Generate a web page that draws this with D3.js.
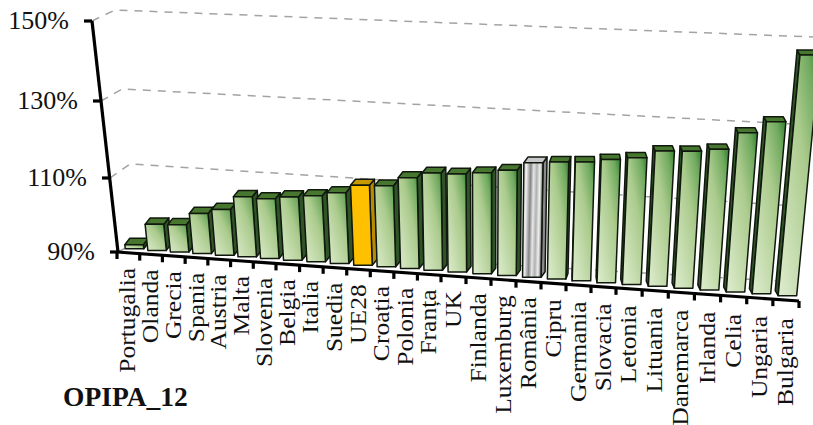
<!DOCTYPE html>
<html>
<head>
<meta charset="utf-8">
<script src="https://cdn.jsdelivr.net/npm/d3@7"></script>
<style>
body { margin: 0; background: #fff; }
text { font-family: "Liberation Serif", "Times New Roman", serif; fill: #111; }
</style>
</head>
<body>
<svg width="813" height="425"></svg>
<script>
var categories = ["Portugalia", "Olanda", "Grecia", "Spania", "Austria", "Malta", "Slovenia", "Belgia", "Italia", "Suedia", "UE28", "Croația", "Polonia", "Franța", "UK", "Finlanda", "Luxemburg", "România", "Cipru", "Germania", "Slovacia", "Letonia", "Lituania", "Danemarca", "Irlanda", "Celia", "Ungaria", "Bulgaria"];
var values = [91.1, 97, 97.3, 100.7, 102.2, 106, 105.8, 106.7, 107.4, 108.6, 110.9, 111.1, 113.5, 115, 115.1, 115.8, 116.8, 119, 119.5, 119.9, 120.8, 121.6, 123.6, 123.9, 124.7, 129, 131.9, 147.5];
var tickValues = [90, 110, 130, 150];
var tickLabels = ["90%", "110%", "130%", "150%"];
var chartTitle = "OPIPA_12";

var svg = d3.select("svg");
var vanish = [486, 3519];

// the chart is a tilted 3D one, so the scales are piecewise
var slotX = d3.scaleLinear().domain([0, 7, 14, 21, 28]).range([117, 276, 441, 616, 799]);
var floorY = d3.scaleLinear().domain([117, 799]).range([252, 301]);
var axisY = d3.scaleLinear().domain(tickValues).range([252, 178, 101, 21]);
var axisX = d3.scaleLinear().domain(tickValues).range([118, 110, 101, 92]);
var backLeftX = d3.scaleLinear().domain(tickValues).range([135, 130, 122, 115]);
var backLeftY = d3.scaleLinear().domain(tickValues).range([243, 164, 89, 10]);
var backRightY = d3.scaleLinear().domain(tickValues).range([283, 207, 125, 37]);
var heightAt = d3.scaleLinear().domain(tickValues).range([0, 74, 151, 231]);
var growth = d3.scaleLinear().domain([117, 799]).range([1, 1.09]);
var shiftX = d3.scaleLinear().domain([151, 358, 785]).range([6, 4.5, 1.5]);
var depthX = d3.scaleLinear().domain([117, 360, 540, 575, 640, 799]).range([5, 5, 4, 0, -2, -3]);
var depthY = d3.scaleLinear().domain([117, 799]).range([6.5, 5]);
var labelGap = d3.scaleLinear().domain([0, 14, 27]).range([15, 15, 18]);

function fan(x0, y0, y) {
    return vanish[0] + (x0 - vanish[0]) * (vanish[1] - y) / (vanish[1] - y0);
}

var defs = svg.append("defs");
function gradient(id, stops, x1, y1, x2, y2) {
    var g = defs.append("linearGradient").attr("id", id)
        .attr("x1", x1).attr("y1", y1).attr("x2", x2).attr("y2", y2);
    stops.forEach(function (s) {
        g.append("stop").attr("offset", s[0]).attr("stop-color", s[1]);
    });
}
gradient("green", [[0, "#dfedcf"], [0.6, "#abcb8d"], [0.86, "#6fa95e"], [1, "#2f8030"]], 0, 1, 1, 0);
gradient("grey", [[0, "#bdbdbd"], [0.2, "#eeeeee"], [0.4, "#858585"], [0.55, "#e6e6e6"], [0.7, "#b0b0b0"], [0.85, "#f0f0f0"], [1, "#707070"]], 0, 0, 1, 0.12);

var palette = {
    normal: { front: "url(#green)", side: "#2f5427", top: "#47772f" },
    UE28: { front: "#ffc000", side: "#b98c00", top: "#c89800" },
    "România": { front: "url(#grey)", side: "#8a8a8a", top: "#c8c8c8" }
};

// back wall grid lines, they stop at the slanted right edge of the wall
tickValues.forEach(function (v) {
    var lx = backLeftX(v), ly = backLeftY(v), ry = backRightY(v);
    var rx = Math.min(813, fan(792, 283, ry));
    var endY = ly + (ry - ly) * (rx - lx) / (813 - lx);
    svg.append("path")
        .attr("d", d3.line()([[axisX(v), axisY(v)], [lx, ly], [rx, endY]]))
        .attr("fill", "none")
        .attr("stroke", "#a3a3a3")
        .attr("stroke-width", 1.5)
        .attr("stroke-dasharray", "8 7");
});

var bars = categories.map(function (name, i) {
    var left = slotX(i), right = slotX(i + 1);
    var mid = (left + right) / 2;
    var cx = mid + shiftX(mid);
    var w = 18.5;
    return {
        name: name, i: i, value: values[i], mid: mid,
        x0: cx - w / 2, x1: cx + w / 2,
        base: floorY(cx) - 4.5,
        dx: depthX(cx),
        dy: depthY(cx),
        h: heightAt(values[i]) * growth(cx)
    };
});

// outer bars go first so side faces stay behind their neighbours
var order = bars.slice().sort(function (a, b) {
    return Math.abs(b.mid - 560) - Math.abs(a.mid - 560);
});

var barGroups = svg.append("g").selectAll("g").data(order).enter().append("g")
    .attr("stroke", "#10180e")
    .attr("stroke-width", 1.5)
    .attr("stroke-linejoin", "round");

function face(sel, fn, key) {
    sel.append("polygon")
        .attr("points", fn)
        .attr("fill", function (d) { return (palette[d.name] || palette.normal)[key]; });
}

face(barGroups, function (d) {
    var top = d.base - d.h;
    var edge = d.dx >= 0 ? d.x1 : d.x0;
    return [
        [fan(edge, d.base, d.base), d.base],
        [fan(edge, d.base, top), top],
        [fan(edge, d.base, top) + d.dx, top - d.dy],
        [fan(edge, d.base, d.base) + d.dx, d.base - d.dy]
    ].join(" ");
}, "side");

face(barGroups, function (d) {
    var top = d.base - d.h;
    return [
        [fan(d.x0, d.base, top), top],
        [fan(d.x1, d.base, top), top],
        [fan(d.x1, d.base, top) + d.dx, top - d.dy],
        [fan(d.x0, d.base, top) + d.dx, top - d.dy]
    ].join(" ");
}, "top");

face(barGroups, function (d) {
    var top = d.base - d.h;
    return [
        [d.x0, d.base],
        [d.x1, d.base],
        [fan(d.x1, d.base, top), top],
        [fan(d.x0, d.base, top), top]
    ].join(" ");
}, "front");

// value axis
svg.append("line")
    .attr("x1", axisX(150)).attr("y1", axisY(150))
    .attr("x2", axisX(90)).attr("y2", axisY(90))
    .attr("stroke", "#000").attr("stroke-width", 3.2);

tickValues.forEach(function (v, i) {
    svg.append("line")
        .attr("x1", axisX(v) - 8).attr("y1", axisY(v))
        .attr("x2", axisX(v)).attr("y2", axisY(v))
        .attr("stroke", "#000").attr("stroke-width", 3.2);
    svg.append("text")
        .attr("x", axisX(v) - 23)
        .attr("y", axisY(v) + 8)
        .attr("text-anchor", "end")
        .attr("font-size", 26)
        .text(tickLabels[i]);
});

// category axis
svg.append("line")
    .attr("x1", slotX(0)).attr("y1", floorY(slotX(0)))
    .attr("x2", slotX(28)).attr("y2", floorY(slotX(28)))
    .attr("stroke", "#000").attr("stroke-width", 3.2);

d3.range(29).forEach(function (i) {
    svg.append("line")
        .attr("x1", slotX(i)).attr("y1", floorY(slotX(i)))
        .attr("x2", slotX(i)).attr("y2", floorY(slotX(i)) + 7)
        .attr("stroke", "#000").attr("stroke-width", 3.2);
});

svg.append("g").selectAll("text").data(bars).enter().append("text")
    .attr("text-anchor", "end")
    .attr("font-size", 23)
    .attr("transform", function (d) {
        return "translate(" + (d.mid + 7) + "," + (floorY(d.mid) + labelGap(d.i)) + ") rotate(-90) scale(1.11,1)";
    })
    .text(function (d) { return d.name; });

svg.append("text")
    .attr("x", 63)
    .attr("y", 406)
    .attr("font-size", 27.5)
    .attr("font-weight", "bold")
    .text(chartTitle);
</script>
</body>
</html>
